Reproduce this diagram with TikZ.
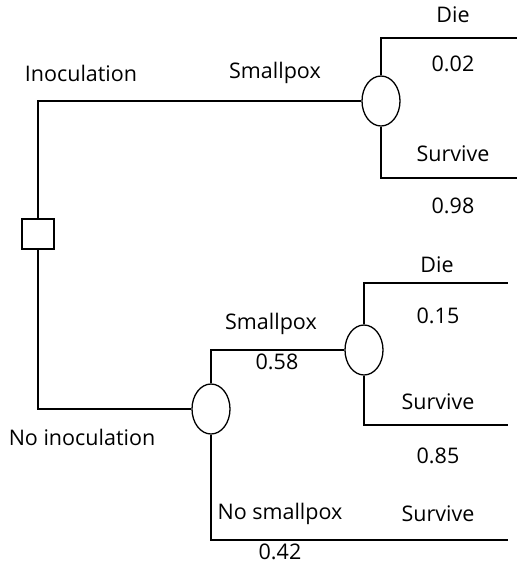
\documentclass[tikz,border=0pt]{standalone}
\usepackage{fontspec}
\setmainfont{Open Sans}
\usetikzlibrary{shapes.geometric}
\begin{document}
\begin{tikzpicture}[x=1pt,y=-1pt,
  line width=1.3pt,
  decision/.style={draw,rectangle,minimum width=32pt,minimum height=30pt,inner sep=0pt},
  chance/.style={draw,ellipse,minimum width=38pt,minimum height=50pt,inner sep=0pt,fill=white},
  lbl/.style={font=\fontsize{21.5}{24}\selectfont,inner sep=0pt,anchor=center}]
\useasboundingbox (0,0) rectangle (517,566);
% decision and chance nodes
\node[decision] (d) at (38,234) {};
\node[chance] (c1) at (381,101) {};
\node[chance] (c3) at (211,409) {};
\node[chance] (c2) at (364,350) {};
% branch end points
\coordinate (e1) at (517,38);
\coordinate (e2) at (517,178);
\coordinate (e3) at (508,283);
\coordinate (e4) at (508,425);
\coordinate (e5) at (508,540);
% branches
\draw (d.north) |- (c1.west);
\draw (d.south) |- (c3.west);
\draw (c1.north) |- (e1);
\draw (c1.south) |- (e2);
\draw (c3.north) |- (c2.west);
\draw (c3.south) |- (e5);
\draw (c2.north) |- (e3);
\draw (c2.south) |- (e4);
% labels
\node[lbl] (l1) at (81,73) {Inoculation};
\node[lbl] (l2) at (275,73) {Smallpox};
\node[lbl] (l3) at (453,15) {Die};
\node[lbl] (l4) at (453,64) {0.02};
\node[lbl] (l5) at (453,154) {Survive};
\node[lbl] (l6) at (453,206) {0.98};
\node[lbl] (l7) at (82,437) {No inoculation};
\node[lbl] (l8) at (271,324) {Smallpox};
\node[lbl] (l9) at (277,362) {0.58};
\node[lbl] (l10) at (437,265) {Die};
\node[lbl] (l11) at (438,316) {0.15};
\node[lbl] (l12) at (438,402) {Survive};
\node[lbl] (l13) at (438,456) {0.85};
\node[lbl] (l14) at (280,514) {No smallpox};
\node[lbl] (l15) at (438,514) {Survive};
\node[lbl] (l16) at (280,552) {0.42};
\end{tikzpicture}
\end{document}
